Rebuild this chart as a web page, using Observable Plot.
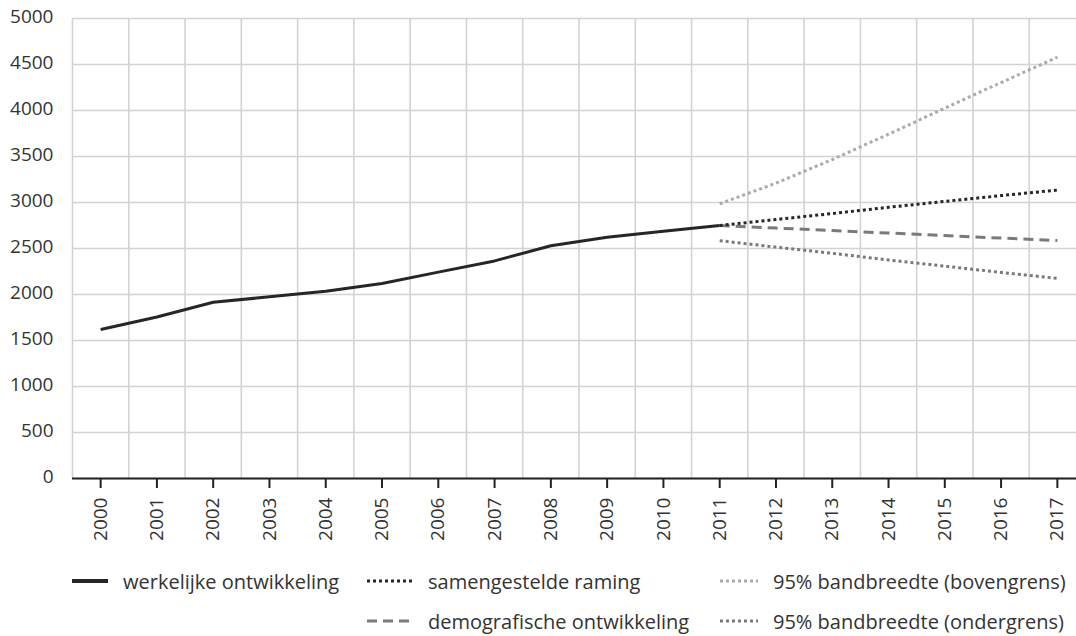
<!DOCTYPE html>
<html>
<head>
<meta charset="utf-8">
<script src="https://cdn.jsdelivr.net/npm/d3@7"></script>
<script src="https://cdn.jsdelivr.net/npm/@observablehq/plot@0.6"></script>
<style>
  html, body { margin: 0; padding: 0; background: #fff; }
  #wrap { position: relative; width: 1076px; height: 636px; font-family: "Open Sans", sans-serif; color: #333; }
  .lg { position: absolute; display: flex; align-items: center; font-size: 20px; white-space: nowrap; height: 30px; }
  .lg svg { display: block; }
</style>
</head>
<body>
<div id="wrap">
  <div id="chart"></div>
  <div id="legend"></div>
</div>
<script>
// ---- data ----
const years = [2000, 2001, 2002, 2003, 2004, 2005, 2006, 2007, 2008, 2009, 2010, 2011, 2012, 2013, 2014, 2015, 2016, 2017];
const actualYears = [2000, 2001, 2002, 2003, 2004, 2005, 2006, 2007, 2008, 2009, 2010, 2011];
const actualValues = [1620, 1755, 1915, 1975, 2035, 2120, 2243, 2365, 2530, 2622, 2688, 2750];
const forecastYears = [2011, 2012, 2013, 2014, 2015, 2016, 2017];
const combinedValues = [2750, 2815, 2880, 2948, 3012, 3075, 3135];
const demographicValues = [2750, 2722, 2695, 2668, 2640, 2613, 2587];
const upperValues = [2986, 3210, 3467, 3742, 4025, 4304, 4579];
const lowerValues = [2585, 2515, 2448, 2375, 2308, 2240, 2175];
const yTicks = [0, 500, 1000, 1500, 2000, 2500, 3000, 3500, 4000, 4500, 5000];
const seriesNames = [
  "werkelijke ontwikkeling",
  "samengestelde raming",
  "95% bandbreedte (bovengrens)",
  "demografische ontwikkeling",
  "95% bandbreedte (ondergrens)"
];

const toRows = (xs, vs) => xs.map((x, i) => ({year: x, value: vs[i]}));
const gridX = years.map(y => y - 0.5);

const styles = {
  "werkelijke ontwikkeling":     {stroke: "#262626", dash: null},
  "samengestelde raming":        {stroke: "#262626", dash: "3,3"},
  "95% bandbreedte (bovengrens)":{stroke: "#ababab", dash: "3,3"},
  "demografische ontwikkeling":  {stroke: "#7a7a7a", dash: "10,6"},
  "95% bandbreedte (ondergrens)":{stroke: "#7a7a7a", dash: "3,3"}
};

const lineMark = (rows, name) => Plot.line(rows, {
  x: "year", y: "value",
  stroke: styles[name].stroke,
  strokeWidth: 3,
  strokeDasharray: styles[name].dash || undefined,
  strokeLinecap: "butt",
  strokeLinejoin: "round"
});

const chart = Plot.plot({
  width: 1076,
  height: 560,
  marginLeft: 72,
  marginRight: 0,
  marginTop: 18,
  marginBottom: 82,
  style: {fontFamily: "'Open Sans', sans-serif", fontSize: "19px", color: "#333", background: "white"},
  x: {type: "linear", domain: [1999.5, 2017.5], range: [72, 1085]},
  y: {domain: [0, 5000]},
  marks: [
    Plot.ruleY(yTicks, {stroke: "#d3d3d3", strokeWidth: 1.6}),
    Plot.ruleX(gridX, {y1: 0, y2: 5000, stroke: "#d3d3d3", strokeWidth: 1.6}),
    Plot.ruleY([0], {stroke: "#222", strokeWidth: 2}),
    Plot.axisX(years, {tickSize: 10, tickPadding: 9, tickRotate: -90, tickFormat: d => String(d), stroke: "#222", strokeWidth: 2, label: null}),
    Plot.axisY(yTicks, {tickSize: 0, tickPadding: 19, tickFormat: d => String(d), label: null, dy: -2}),
    lineMark(toRows(forecastYears, upperValues), seriesNames[2]),
    lineMark(toRows(forecastYears, lowerValues), seriesNames[4]),
    lineMark(toRows(forecastYears, demographicValues), seriesNames[3]),
    lineMark(toRows(forecastYears, combinedValues), seriesNames[1]),
    lineMark(toRows(actualYears, actualValues), seriesNames[0])
  ]
});
document.getElementById("chart").appendChild(chart);

// ---- legend (HTML below the svg) ----
const legendPos = {
  "werkelijke ontwikkeling":      {left: 72,  top: 566, w: 36},
  "samengestelde raming":         {left: 367, top: 566, w: 46},
  "95% bandbreedte (bovengrens)": {left: 720, top: 566, w: 38},
  "demografische ontwikkeling":   {left: 367, top: 606, w: 46},
  "95% bandbreedte (ondergrens)": {left: 720, top: 606, w: 38}
};
const legend = document.getElementById("legend");
seriesNames.forEach(name => {
  const p = legendPos[name];
  const s = styles[name];
  const item = document.createElement("div");
  item.className = "lg";
  item.style.left = p.left + "px";
  item.style.top = p.top + "px";
  const sw = `<svg width="${p.w}" height="10"><line x1="0" x2="${p.w}" y1="5" y2="5" stroke="${s.stroke}" stroke-width="${name === seriesNames[0] ? 4 : 3}" ${s.dash ? `stroke-dasharray="${s.dash}"` : ""}/></svg>`;
  item.innerHTML = sw + `<span style="margin-left:15px">${name}</span>`;
  legend.appendChild(item);
});
</script>
</body>
</html>
